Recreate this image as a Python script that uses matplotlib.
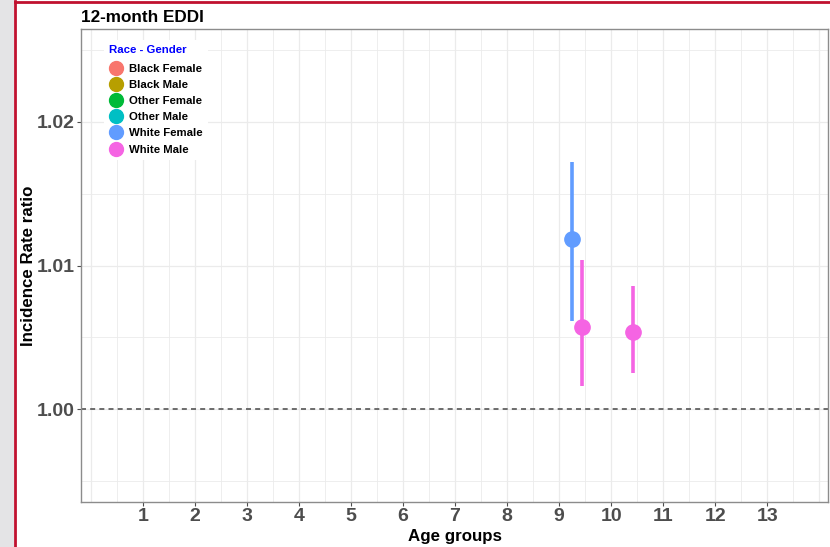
import matplotlib.pyplot as plt
import matplotlib.patches as patches
import numpy as np

plt.rcParams['font.family'] = ['Liberation Sans', 'DejaVu Sans']

# legend categories and ggplot hue colours
groups = ['Black Female', 'Black Male', 'Other Female', 'Other Male', 'White Female', 'White Male']
colors = ['#F8766D', '#B79F00', '#00BA38', '#00BFC4', '#619CFF', '#F564E3']

# estimates (dodged x position, IRR, lower, upper)
pt_group = ['White Female', 'White Male', 'White Male']
pt_x = [9.25, 9.44, 10.42]
pt_irr = [1.01185, 1.00571, 1.00537]
pt_low = [1.00613, 1.00160, 1.00251]
pt_high = [1.01721, 1.01038, 1.00857]

xticks = list(range(1, 14))

W, H = 830, 547
fig = plt.figure(figsize=(W / 100, H / 100), dpi=100)

# gray page strip and crimson frame
fig.patches.append(patches.Rectangle((0, 0), 14 / W, 1, transform=fig.transFigure,
                                     facecolor='#E4E4E6', edgecolor='none', zorder=0))
fig.add_artist(plt.Line2D([15 / W, 15 / W], [0, 1 - 1 / H], transform=fig.transFigure,
                          color='#C0112F', lw=2))
fig.add_artist(plt.Line2D([15 / W, 1], [1 - 1.5 / H, 1 - 1.5 / H], transform=fig.transFigure,
                          color='#C0112F', lw=2))

ax = fig.add_axes([81 / W, 1 - 502 / H, (828 - 81) / W, (502 - 29) / H])
ax.set_xlim(-0.19, 14.17)
ax.set_ylim(0.99352, 1.02648)

for v in np.arange(0, 14.01, 0.5):
    ax.axvline(v, color='#EBEBEB', lw=0.9 if v % 1 == 0 else 0.6, zorder=0)
for v in [0.995, 1.0, 1.005, 1.01, 1.015, 1.02, 1.025]:
    ax.axhline(v, color='#EBEBEB', lw=0.9 if round(v * 1000) % 10 == 0 else 0.6, zorder=0)

ax.axhline(1.0, color='#555555', lw=1.2, ls=(0, (3, 2.5)), zorder=1)

for g, x, y, lo, hi in zip(pt_group, pt_x, pt_irr, pt_low, pt_high):
    c = colors[groups.index(g)]
    ax.plot([x, x], [lo, hi], color=c, lw=2.6, solid_capstyle='butt', zorder=2)
    ax.plot(x, y, 'o', color=c, ms=11, zorder=3)

ax.set_xticks(xticks)
ax.set_xticklabels([str(t) for t in xticks])
ax.set_yticks([1.00, 1.01, 1.02])
ax.set_yticklabels(['1.00', '1.01', '1.02'])
ax.tick_params(colors='#4D4D4D', labelsize=14, length=3, width=0.8)
for lab in ax.get_xticklabels() + ax.get_yticklabels():
    lab.set_fontweight('bold')
ax.tick_params(axis='x', pad=1.5)
ax.tick_params(axis='y', pad=1.5)
for s in ax.spines.values():
    s.set_color('#8C8C8C')
    s.set_linewidth(1.0)

ax.set_xlabel('Age groups', fontsize=12.2, fontweight='bold')
ax.set_ylabel('Incidence Rate ratio', fontsize=12.2, fontweight='bold')
ax.xaxis.set_label_coords(0.5, -(536 - 502) / 473, transform=ax.transAxes)
ax.yaxis.set_label_coords((29 - 81) / 747, 0.5, transform=ax.transAxes)
ax.xaxis.label.set_va('center')
ax.yaxis.label.set_va('center')
fig.text(81 / W, 1 - 17 / H, '12-month EDDI', fontsize=12.3, fontweight='bold', va='center', ha='left')

handles = [plt.Line2D([], [], marker='o', ls='none', color=c, ms=10) for c in colors]
leg = ax.legend(handles, groups, title='Race - Gender', loc='upper left',
                bbox_to_anchor=((98 - 81) / 747, 1 - (34 - 29) / 473), frameon=True,
                framealpha=1, edgecolor='none', fancybox=False,
                fontsize=8.2, title_fontsize=8.2, labelspacing=0.53, handletextpad=0.6,
                handlelength=1.2, borderpad=0.45, alignment='left')
leg._legend_box.sep = 0.53 * 8.2 + 2.5
leg.get_title().set_color('#0000FF')
leg.get_title().set_fontweight('bold')
for t in leg.get_texts():
    t.set_fontweight('bold')

fig.savefig('out.png', dpi=100)
